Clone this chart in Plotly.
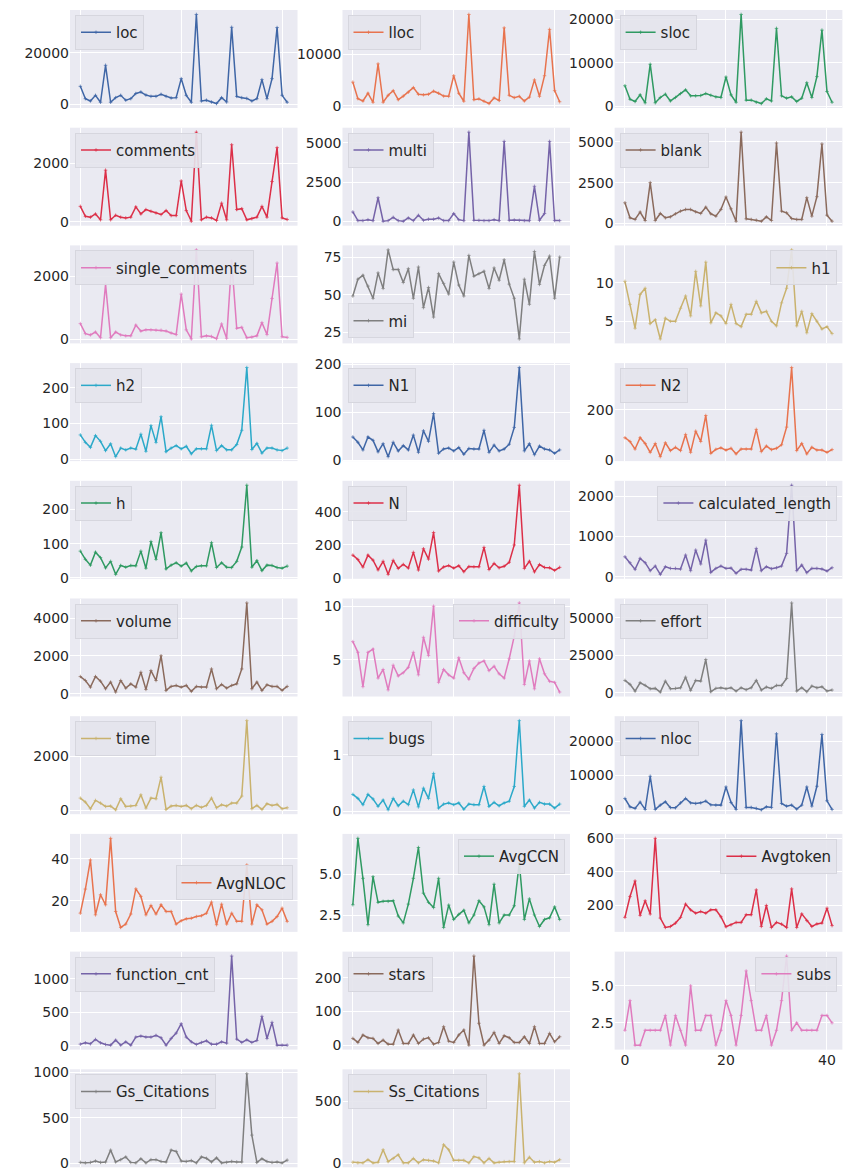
import plotly.graph_objects as go

x = list(range(42))

loc = [7000,2200,1300,3500,800,15200,800,2600,3500,1600,2200,4200,4800,3600,3100,3100,3900,3100,2500,2600,10000,3500,800,35000,1300,1600,900,300,2600,900,30000,3100,2600,2300,1300,2200,9600,2200,10000,29900,3500,800]
lloc = [4550,1350,900,2400,650,8100,650,2000,2900,1150,1850,2600,3500,2200,2100,2200,2800,2400,1850,1800,5800,2400,850,17700,1150,1300,850,400,1500,1000,15100,2000,1550,1800,900,1650,5000,1800,5800,14800,2900,750]
sloc = [4700,1600,1070,2600,770,9650,770,2000,2750,1200,2000,2900,3750,2370,2370,2450,2900,2500,2140,2000,6700,2600,900,21100,1380,1380,900,600,1700,1200,17900,2370,1840,2140,1070,1840,5400,2000,6800,17500,3370,900]
comments = [530,190,160,270,70,1770,70,225,160,135,160,510,270,420,360,305,250,385,215,215,1400,385,20,3070,70,160,135,45,640,70,2640,420,450,70,110,160,530,160,1380,2540,135,80]
multi = [590,40,40,100,40,1500,0,40,250,40,0,210,40,380,60,130,130,210,40,40,490,100,40,5680,60,60,40,40,100,40,5090,60,80,60,40,40,2230,60,490,5090,40,40]
blank = [1270,350,250,700,185,2500,185,615,350,410,595,760,860,860,720,615,1000,595,450,860,1620,900,140,5580,290,250,205,140,410,185,4920,760,655,310,250,250,1580,450,1640,4860,510,140]
single_comments = [500,180,140,230,50,1750,50,230,140,110,110,450,260,300,300,290,290,260,200,150,1440,300,10,2850,80,110,90,20,490,30,2500,350,380,50,70,110,530,150,1300,2430,80,60]
mi = [49.1,60.3,62.9,55.7,47.6,64.5,54.2,79.8,66.7,66.7,58.1,67.3,47.6,68.4,41.4,54.8,35.1,64.0,57.5,50.4,71.7,56.4,49.1,76.1,62.3,64.0,65.6,54.2,67.8,59.6,73.2,57.0,47.6,20.6,60.3,43.6,78.7,56.8,69.5,75.7,47.6,75.0]
h1 = [10.2,7.2,4.1,8.5,9.3,4.7,5.2,2.7,5.4,5.0,5.0,6.7,8.3,5.7,11.5,7.0,12.7,4.8,6.1,5.7,4.7,7.2,4.7,4.3,5.9,5.9,7.6,6.1,6.3,5.0,4.4,7.4,9.3,14.3,4.4,6.3,3.5,6.0,5.0,4.0,4.3,3.4]
h2 = [68,47,33,66,50,24,43,7,31,26,31,28,70,22,94,47,119,21,31,38,29,36,15,29,29,29,95,24,38,26,26,41,81,257,27,44,17,31,31,26,24,31]
N1 = [48,37,21,48,41,17,34,7,37,19,30,21,52,16,61,39,97,14,23,25,19,26,12,24,23,23,62,16,31,19,23,33,68,193,19,34,11,29,23,21,14,21]
N2 = [90,75,45,90,67,32,67,15,70,39,52,39,103,32,116,75,178,28,44,50,41,48,26,45,45,45,123,35,57,43,48,62,132,368,39,67,26,52,41,41,32,43]
h = [78,54,37,75,59,29,48,10,36,31,36,35,78,28,106,54,132,26,37,44,34,43,20,33,35,35,103,30,44,31,30,48,90,271,31,50,21,37,36,30,28,34]
N = [138,112,66,138,108,49,101,22,107,58,82,60,155,48,177,114,275,42,67,75,60,74,38,69,68,68,185,51,88,62,71,95,200,561,58,101,37,81,64,62,46,64]
calculated_length = [495,347,182,454,347,149,264,58,248,206,206,190,537,149,661,314,909,107,206,264,206,215,83,182,182,165,702,149,248,198,223,264,578,2270,149,289,99,206,206,190,140,223]
volume = [910,700,350,910,665,263,613,88,700,298,525,350,1138,228,1225,700,2013,175,385,438,350,438,123,385,350,350,1313,263,490,298,438,525,1313,4813,263,613,175,473,385,385,175,385]
difficulty = [6.7,5.7,2.5,5.7,6.0,3.3,4.1,2.2,4.5,3.5,3.8,4.3,5.7,3.6,7.1,5.4,10.0,2.9,4.1,3.6,3.3,5.2,3.8,3.2,4.2,4.7,4.9,4.0,4.4,3.7,3.3,5.1,7.2,10.3,2.7,4.9,2.3,5.1,3.7,3.0,2.9,2.0]
effort = [8200,5550,1100,6660,4900,2660,2890,440,7770,2660,2890,3330,10400,1550,8200,7770,22200,670,2890,3330,2660,3330,1110,3330,2000,3330,8200,1780,3770,2890,4880,4880,9550,60000,1110,3330,670,4440,3330,4000,1110,1780]
time = [456,308,61,370,272,148,161,24,432,148,161,185,578,86,456,432,1233,37,161,185,148,185,62,185,111,185,456,99,209,161,271,271,531,3333,62,185,37,247,185,222,62,99]
bugs = [0.30,0.23,0.12,0.30,0.22,0.09,0.20,0.03,0.23,0.10,0.18,0.12,0.38,0.08,0.41,0.23,0.67,0.06,0.13,0.15,0.12,0.15,0.04,0.13,0.12,0.12,0.44,0.09,0.16,0.10,0.15,0.18,0.44,1.60,0.09,0.20,0.06,0.16,0.13,0.13,0.06,0.13]
nloc = [3360,960,480,2300,190,9800,190,1440,2400,770,670,2100,3360,2100,1920,2100,2600,1540,1440,1440,6700,2200,190,25900,770,770,480,100,960,770,22100,1920,1150,1440,290,1440,6700,1150,6900,21900,2700,190]
AvgNLOC = [14.1,25.6,39.5,13.3,22.9,18.1,49.8,14.9,7.3,8.9,13.7,25.7,22.1,13.3,17.8,13.7,18.1,14.9,14.9,8.9,10.5,11.4,11.7,12.5,12.9,14.1,19.4,8.6,18.4,8.9,14.1,10.2,10.2,37.1,8.9,18.1,15.7,8.9,10.2,12.5,16.5,10.2]
AvgCCN = [3.13,7.2,4.75,1.91,4.85,3.28,3.34,3.34,3.38,2.44,2.02,3.17,4.75,6.64,3.84,3.28,2.96,4.75,1.74,3.11,2.23,2.54,2.79,2.02,2.50,3.38,3.00,1.91,4.39,2.02,2.50,2.50,3.07,5.70,2.23,3.49,2.50,1.80,2.23,2.33,3.00,2.23]
Avgtoken = [129,253,346,141,228,149,600,125,69,75,95,129,208,174,154,164,154,174,174,133,73,85,99,99,145,145,293,75,200,69,99,89,69,299,69,150,110,75,90,95,184,80]
function_cnt = [25,45,30,95,45,20,10,85,10,60,10,130,145,130,130,155,120,10,110,190,330,130,60,20,50,75,25,25,60,40,1340,100,50,90,50,80,440,110,350,10,10,10]
stars = [20,8,30,22,20,5,15,3,3,45,5,5,30,5,18,22,3,8,55,12,8,30,45,0,265,65,0,15,38,5,28,22,8,8,25,5,55,5,5,35,10,25]
subs = [2,4,1,1,2,2,2,2,3,1,3,2,1,5,2,2,3,3,1,2,4,3,1,3,6,4,2,2,3,1,2,4,7,2,2.5,2,2,2,2,3,3,2.5]
Gs_Citations = [10,5,10,25,10,15,145,15,40,70,10,5,50,5,40,40,20,15,145,130,25,20,30,5,70,55,15,60,5,10,20,15,15,985,310,10,50,20,10,15,5,35]
Ss_Citations = [10,5,5,30,5,10,110,15,40,70,5,5,40,5,30,25,20,5,150,110,25,25,25,5,55,45,5,40,5,10,15,15,15,720,5,50,10,15,5,15,10,30]

names = ["loc", "lloc", "sloc", "comments", "multi", "blank", "single_comments", "mi", "h1", "h2",
         "N1", "N2", "h", "N", "calculated_length", "volume", "difficulty", "effort", "time", "bugs",
         "nloc", "AvgNLOC", "AvgCCN", "Avgtoken", "function_cnt", "stars", "subs", "Gs_Citations", "Ss_Citations"]
series = [loc, lloc, sloc, comments, multi, blank, single_comments, mi, h1, h2,
          N1, N2, h, N, calculated_length, volume, difficulty, effort, time, bugs,
          nloc, AvgNLOC, AvgCCN, Avgtoken, function_cnt, stars, subs, Gs_Citations, Ss_Citations]

palette = ["#3F66A6", "#E8734E", "#2F9A62", "#DC2F48", "#7563A8",
           "#8A6A5C", "#E07BBE", "#7F7F7F", "#C9B26E", "#2BA9C9"]

legend_pos = ["ul", "ul", "ul", "ul", "ul", "ul", "ul", "ll", "ur", "ul",
              "ul", "ul", "ul", "ul", "ur", "ul", "ur", "ul", "ul", "ul",
              "ul", "cr", "ur", "ur", "ul", "ul", "ur", "ul", "ul"]

y_dtick = [20000, 10000, 10000, 2000, 2500, 2500, 2000, 25, 5, 100,
           100, 200, 100, 200, 1000, 2000, 5, 25000, 2000, 1,
           10000, 20, 2.5, 200, 500, 100, 2.5, 500, 500]
y_fmt = ["d"] * 22 + [".1f", "d", "d", "d", ".1f", "d", "d"]
x_ticks = [0, 20, 40]

W, H = 849, 1175
col_x = [(70.0, 297.5), (342.5, 570.0), (614.6, 842.4)]
row_top0, row_step, row_h = 10.0, 117.7, 98.0
font_family = "DejaVu Sans"
text_color = "#262626"

fig = go.Figure()
layout = dict(
    width=W, height=H,
    margin=dict(l=0, r=0, t=0, b=0, pad=0),
    paper_bgcolor="white",
    plot_bgcolor="#EAEAF2",
    font=dict(family=font_family, size=14, color=text_color),
    showlegend=True,
)

for k, (name, vals) in enumerate(zip(names, series)):
    r, c = divmod(k, 3)
    n = k + 1
    suf = "" if n == 1 else str(n)
    color = palette[k % 10]
    fig.add_trace(go.Scatter(
        x=x, y=vals, mode="lines+markers", name=name,
        xaxis="x" + suf, yaxis="y" + suf, legend="legend" + suf,
        line=dict(color=color, width=1.5),
        marker=dict(symbol="cross-thin", size=2.5, color=color, line=dict(color=color, width=0.7)),
    ))
    x0, x1 = col_x[c]
    top = row_top0 + r * row_step
    bot = top + row_h
    lo, hi = min(vals), max(vals)
    pad = 0.05 * (hi - lo)
    layout["xaxis" + suf] = dict(
        domain=[x0 / W, x1 / W], anchor="y" + suf, range=[-2.05, 43.05],
        tickvals=x_ticks, showticklabels=(name == "subs"), ticks="",
        showgrid=True, gridcolor="white", gridwidth=1, zeroline=False, showline=False,
        tickfont=dict(family=font_family, size=14, color=text_color), automargin=False,
    )
    layout["yaxis" + suf] = dict(
        domain=[1 - bot / H, 1 - top / H], anchor="x" + suf, range=[lo - pad, hi + pad],
        tick0=0, dtick=y_dtick[k], tickformat=y_fmt[k], ticks="",
        showgrid=True, gridcolor="white", gridwidth=1.3, zeroline=False, showline=False,
        tickfont=dict(family=font_family, size=14, color=text_color), automargin=False,
    )
    off = 5.0
    pos = legend_pos[k]
    if pos == "ul":
        lx, ly, xa, ya = (x0 + off) / W, 1 - (top + off) / H, "left", "top"
    elif pos == "ur":
        lx, ly, xa, ya = (x1 - off) / W, 1 - (top + off) / H, "right", "top"
    elif pos == "ll":
        lx, ly, xa, ya = (x0 + off) / W, 1 - (bot - off) / H, "left", "bottom"
    else:
        lx, ly, xa, ya = (x1 - off) / W, 1 - ((top + bot) / 2) / H, "right", "middle"
    layout["legend" + suf] = dict(
        x=lx, y=ly, xanchor=xa, yanchor=ya, xref="paper", yref="paper",
        bgcolor="rgba(228,228,236,0.9)", bordercolor="#D6D6DE", borderwidth=1,
        font=dict(family=font_family, size=15, color=text_color),
        itemwidth=30, tracegroupgap=0,
    )

fig.update_layout(**layout)
fig.write_html(
    "out.html",
    config={"displayModeBar": False},
    post_script="document.body.style.margin='0px';document.body.style.padding='0px';document.body.style.overflow='hidden';",
)
